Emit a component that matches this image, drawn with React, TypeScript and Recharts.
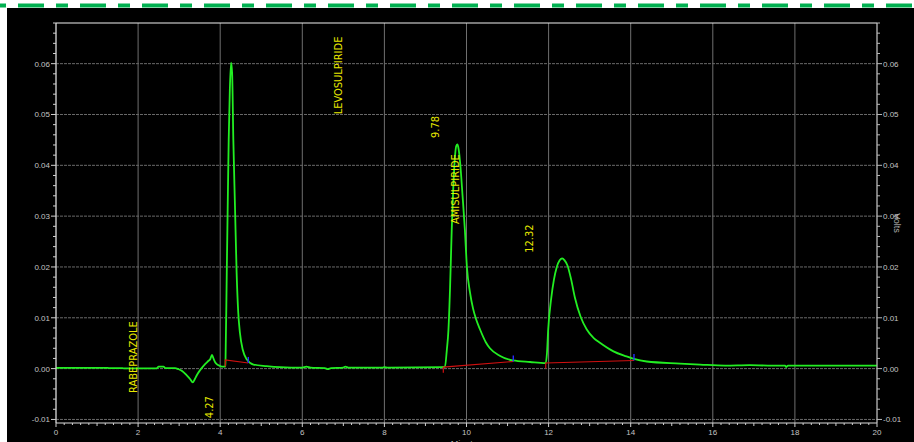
import React from "react";
import {
  ComposedChart,
  Line,
  Scatter,
  XAxis,
  YAxis,
  CartesianGrid,
  ReferenceLine,
} from "recharts";

// detector trace (minutes / volts)
const traceMinutes = [
  0, 1.25, 1.28, 1.62, 1.65, 2.45, 2.5, 2.62, 2.66, 2.9, 2.98, 3.08, 3.18, 3.27, 3.33, 3.38,
  3.43, 3.51, 3.61, 3.71, 3.76, 3.8, 3.84, 3.88, 3.95, 4.04, 4.125, 4.13, 4.16, 4.183, 4.207,
  4.235, 4.265, 4.29, 4.32, 4.36, 4.4, 4.44, 4.48, 4.55, 4.65, 4.81, 5.13, 5.46, 6.0, 6.1, 6.2,
  6.55, 6.62, 6.7, 7.0, 7.05, 7.12, 7.95, 8.0, 8.08, 9.4, 9.476, 9.52, 9.56, 9.6, 9.64, 9.68,
  9.72, 9.75, 9.78, 9.81, 9.845, 9.905, 9.96, 10.01, 10.085, 10.16, 10.23, 10.33, 10.47, 10.57,
  10.82, 11.13, 11.55, 11.93, 11.96, 11.99, 12.06, 12.13, 12.2, 12.27, 12.33, 12.39, 12.46,
  12.55, 12.64, 12.78, 12.93, 13.1, 13.25, 13.58, 13.9, 14.08, 14.39, 15.2, 15.69, 16.3, 16.9,
  17.34, 17.76, 17.79, 17.83, 20,
];
const traceVolts = [
  0.00016, 0.00016, 0.0001, 0.0001, 0.00005, 0.00005, 0.0004, 0.0004, 0.0001, 0.0001, -0.0001,
  -0.0005, -0.0013, -0.0021, -0.0027, -0.0021, -0.0013, -0.0003, 0.0007, 0.0015, 0.0019,
  0.0027, 0.0019, 0.0012, 0.0007, 0.0004, 0.0004, 0.0017, 0.0189, 0.032, 0.045, 0.0549, 0.0602,
  0.0582, 0.045, 0.032, 0.0189, 0.011, 0.0071, 0.0037, 0.0018, 0.0008, 0.0005, 0.0003, 0.0002,
  0.0004, 0.0002, 0.0001, -0.0001, 0.0001, 0.0002, 0.0004, 0.0002, 0.0002, 0.0003, 0.0002,
  0.0003, 0.0004, 0.0036, 0.0076, 0.016, 0.0273, 0.036, 0.0418, 0.0438, 0.0441, 0.0431, 0.0405,
  0.0339, 0.0274, 0.02, 0.015, 0.0118, 0.0098, 0.0077, 0.0052, 0.004, 0.0025, 0.0016, 0.0013,
  0.0011, 0.003, 0.0077, 0.0136, 0.0175, 0.02, 0.0213, 0.0217, 0.0213, 0.0203, 0.0175, 0.014,
  0.0102, 0.0077, 0.006, 0.0051, 0.0034, 0.0024, 0.0019, 0.0014, 0.001, 0.0008, 0.0006, 0.0007,
  0.0006, 0.0006, 0.0003, 0.0006, 0.0006,
];

// integration baselines (red) and peak-end marks (blue)
const baseStartMin = [4.125, 9.435, 11.93];
const baseStartLow = [0.0004, -0.0008, 0.0];
const baseStartV = [0.0017, 0.0003, 0.0011];
const baseEndMin = [4.685, 11.14, 14.08];
const baseEndV = [0.0011, 0.0014, 0.0016];
const endMarkTopV = [0.0023, 0.0026, 0.0029];

// annotations
const peakNames = ["RABEPRAZOLE", "LEVOSULPIRIDE", "AMISULPIRIDE"];
const peakNameAt = [
  [1.876, 0.00226],
  [6.894, 0.05768],
  [9.732, 0.03533],
];
const retentionTimes = ["4.27", "9.78", "12.32"];
const retentionAt = [
  [3.75, -0.00758],
  [9.245, 0.04754],
  [11.547, 0.02559],
];

const xMajor = [0, 2, 4, 6, 8, 10, 12, 14, 16, 18, 20];
const yMajor = [-0.01, 0, 0.01, 0.02, 0.03, 0.04, 0.05, 0.06];
const xMinor = Array.from({ length: 101 }, (_, i) => (i * 2) / 10);
const yMinor = Array.from({ length: 40 }, (_, i) => (-10 + 2 * i) / 1000);

const Y_DOMAIN: [number, number] = [-0.0107, 0.068];

const trace = traceMinutes.map((x, i) => ({ x, y: traceVolts[i] }));
const baselines = baseStartMin.map((x, i) => [
  { x, y: baseStartLow[i] },
  { x, y: baseStartV[i] },
  { x: baseEndMin[i], y: baseEndV[i] },
]);
const endMarks = baseEndMin.map((x, i) => [
  { x, y: baseEndV[i] },
  { x, y: endMarkTopV[i] },
]);
const annotations = [
  ...peakNames.map((t, i) => ({ x: peakNameAt[i][0], y: peakNameAt[i][1], text: t })),
  ...retentionTimes.map((t, i) => ({ x: retentionAt[i][0], y: retentionAt[i][1], text: t })),
];

const tickFont = "'Liberation Sans', Arial, sans-serif";
const tickFill = "#c4c4c4";

const isMult = (v: number, step: number) => Math.abs(v / step - Math.round(v / step)) < 1e-6;

function XTick(props: any) {
  const { x, y, payload } = props;
  const v = payload.value;
  const major = isMult(v, 2);
  const mid = !major && isMult(v, 1);
  const len = major ? 4 : mid ? 3 : 2;
  return (
    <g>
      <line x1={x} x2={x} y1={y} y2={y + len} stroke="#d0d0d0" />
      {major && (
        <text x={x} y={y + 12} textAnchor="middle" fontSize={8} fill={tickFill} fontFamily={tickFont}>
          {Math.round(v)}
        </text>
      )}
    </g>
  );
}

function LeftTick(props: any) {
  const { x, y, payload } = props;
  const major = isMult(payload.value, 0.01);
  return (
    <g>
      <line x1={x - (major ? 5 : 3)} x2={x} y1={y} y2={y} stroke="#d0d0d0" />
      {major && (
        <text x={x - 6} y={y + 3} textAnchor="end" fontSize={8} fill={tickFill} fontFamily={tickFont}>
          {payload.value.toFixed(2)}
        </text>
      )}
    </g>
  );
}

function RightTick(props: any) {
  const { x, y, payload } = props;
  const major = isMult(payload.value, 0.01);
  return (
    <g>
      <line x1={x} x2={x + (major ? 5 : 3)} y1={y} y2={y} stroke="#b8b8b8" />
      {major && (
        <text x={x + 6} y={y + 3} textAnchor="start" fontSize={8} fill={tickFill} fontFamily={tickFont}>
          {payload.value.toFixed(2)}
        </text>
      )}
    </g>
  );
}

function VoltsLabel(props: any) {
  const { x, y, height } = props.viewBox;
  const cx = x + 20;
  const cy = y + height / 2;
  return (
    <text
      x={cx}
      y={cy}
      transform={`rotate(90 ${cx} ${cy})`}
      textAnchor="middle"
      dominantBaseline="central"
      fontSize={9}
      fill="#b0b0b0"
      fontFamily={tickFont}
    >
      Volts
    </text>
  );
}

function PeakLabel(props: any) {
  const { cx, cy, payload } = props;
  return (
    <text
      x={cx}
      y={cy}
      transform={`rotate(-90 ${cx} ${cy})`}
      textAnchor="middle"
      dominantBaseline="central"
      fontSize={11}
      fill="#e8e800"
      fontFamily="'Liberation Sans Narrow', 'Arial Narrow', 'DejaVu Sans Condensed', sans-serif"
    >
      {payload.text}
    </text>
  );
}

export default function App() {
  return (
    <div
      style={{
        position: "absolute",
        left: 0,
        top: 0,
        width: 914,
        height: 442,
        background: "#fff",
        overflow: "hidden",
      }}
    >
      <svg width={914} height={8} style={{ position: "absolute", left: 0, top: 0 }}>
        <line x1={0} x2={914} y1={5.5} y2={5.5} stroke="#00b050" strokeWidth={4} strokeDasharray="26 12 12 12" strokeDashoffset={44} />
      </svg>
      <div style={{ position: "absolute", left: 7, top: 8, width: 907, height: 450, background: "#000" }}>
        <ComposedChart width={907} height={450} margin={{ top: 15, right: 0, bottom: 0, left: 0 }}>
          <CartesianGrid horizontal={false} verticalValues={xMajor} stroke="#6f6f6f" />
          <CartesianGrid vertical={false} horizontalValues={yMajor} stroke="#6a6a6a" strokeDasharray="3 1" />
          <XAxis
            dataKey="x"
            type="number"
            domain={[0, 20]}
            allowDataOverflow
            ticks={xMinor}
            interval={0}
            tick={XTick}
            tickLine={false}
            tickSize={0}
            tickMargin={0}
            height={35}
            axisLine={{ stroke: "#dcdcdc" }}
            label={{ value: "Minutes", position: "insideBottom", offset: 11, fill: "#b0b0b0", fontSize: 9, fontFamily: tickFont }}
          />
          <YAxis
            type="number"
            domain={Y_DOMAIN}
            allowDataOverflow
            ticks={yMinor}
            interval={0}
            tick={LeftTick}
            tickLine={false}
            tickSize={0}
            tickMargin={0}
            width={49}
            axisLine={{ stroke: "#e8e8e8" }}
          />
          <YAxis
            yAxisId="right"
            orientation="right"
            type="number"
            domain={Y_DOMAIN}
            allowDataOverflow
            ticks={yMinor}
            interval={0}
            tick={RightTick}
            tickLine={false}
            tickSize={0}
            tickMargin={0}
            width={37}
            axisLine={{ stroke: "#bdbdbd" }}
            label={VoltsLabel}
          />
          <ReferenceLine y={Y_DOMAIN[1]} stroke="#f0f0f0" />
          <Line
            data={trace}
            dataKey="y"
            type="monotone"
            stroke="#22ee22"
            strokeWidth={1.8}
            dot={false}
            activeDot={false}
            isAnimationActive={false}
          />
          {baselines.map((d, i) => (
            <Line
              key={`b${i}`}
              data={d}
              dataKey="y"
              type="linear"
              stroke="#d01010"
              strokeWidth={1.2}
              dot={false}
              activeDot={false}
              isAnimationActive={false}
            />
          ))}
          {endMarks.map((d, i) => (
            <Line
              key={`e${i}`}
              data={d}
              dataKey="y"
              type="linear"
              stroke="#2a2aff"
              strokeWidth={1.4}
              dot={false}
              activeDot={false}
              isAnimationActive={false}
            />
          ))}
          <Scatter data={annotations} dataKey="y" shape={PeakLabel} isAnimationActive={false} />
        </ComposedChart>
      </div>
    </div>
  );
}
